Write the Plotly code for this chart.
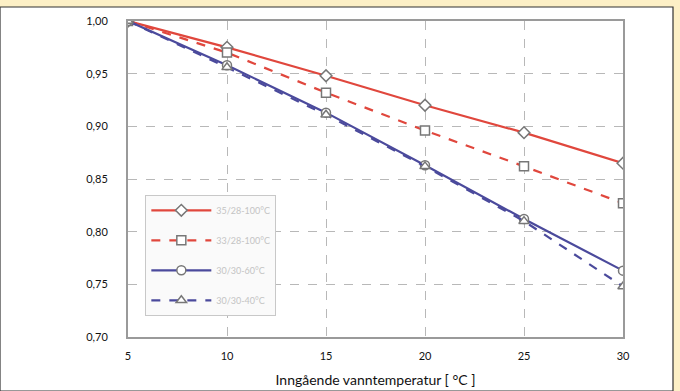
import plotly.graph_objects as go

temps = [5, 10, 15, 20, 25, 30]
s1 = [1.000, 0.975, 0.948, 0.920, 0.894, 0.865]
s2 = [1.000, 0.970, 0.932, 0.896, 0.862, 0.827]
s3 = [1.000, 0.958, 0.913, 0.863, 0.812, 0.763]
s4 = [1.000, 0.956, 0.911, 0.862, 0.810, 0.748]
names = ["35/28-100°C", "33/28-100°C", "30/30-60°C", "30/30-40°C"]
yticks = [0.70, 0.75, 0.80, 0.85, 0.90, 0.95, 1.00]
ylabels = ["0,70", "0,75", "0,80", "0,85", "0,90", "0,95", "1,00"]
xticks = [5, 10, 15, 20, 25, 30]

RED = "#e0473d"
BLUE = "#4b4a9c"
series = [
    (s1, names[0], RED, "solid", "diamond"),
    (s2, names[1], RED, "dash", "square"),
    (s3, names[2], BLUE, "solid", "circle"),
    (s4, names[3], BLUE, "dash", "triangle-up"),
]

fig = go.Figure()
for i, (vals, nm, col, dash, sym) in enumerate(series):
    fig.add_trace(go.Scatter(
        x=temps, y=vals, name=nm, mode="lines+markers",
        legendgroup=f"g{i}",
        line=dict(color=col, width=2.2, dash=dash),
        marker=dict(symbol=sym, size=9, color="white",
                    line=dict(color="#777777", width=1.5)),
    ))

fig.update_layout(
    width=680, height=391,
    margin=dict(l=128, r=57, t=21, b=54),
    paper_bgcolor="#fdf0c6",
    plot_bgcolor="#e5e5e5",
    font=dict(family="Lato, DejaVu Sans, sans-serif", size=11, color="#111111"),
    showlegend=True,
    legend=dict(
        x=0.035, y=0.45, xanchor="left", yanchor="top",
        bgcolor="#fafafa", bordercolor="#c8c8c8", borderwidth=1,
        font=dict(size=9, color="#c4c4c4"),
        traceorder="grouped", tracegroupgap=11,
        itemwidth=60,
    ),
    shapes=[
        dict(type="rect", xref="paper", yref="paper",
             x0=-128/495, x1=1+50/495, y0=-54/316, y1=1+14/316,
             fillcolor="white", line=dict(color="#333333", width=1.2),
             layer="below"),
    ],
)
fig.update_xaxes(
    range=[5, 30], tickvals=xticks, ticks="", ticklabelstandoff=8,
    automargin=False,
    showgrid=True, gridcolor="#b8b8b8", griddash="dash", gridwidth=1,
    showline=True, linecolor="#9a9a9a", linewidth=2, mirror=True,
    zeroline=False,
    title=dict(text="Inngående vanntemperatur [ °C ]", font=dict(size=14), standoff=14),
)
fig.update_yaxes(
    range=[0.70, 1.00], tickvals=yticks, ticktext=ylabels, ticks="",
    ticklabelstandoff=16, automargin=False,
    showgrid=True, gridcolor="#b8b8b8", griddash="dash", gridwidth=1,
    showline=True, linecolor="#9a9a9a", linewidth=2, mirror=True,
    zeroline=False,
)
fig.write_html("out.html")
